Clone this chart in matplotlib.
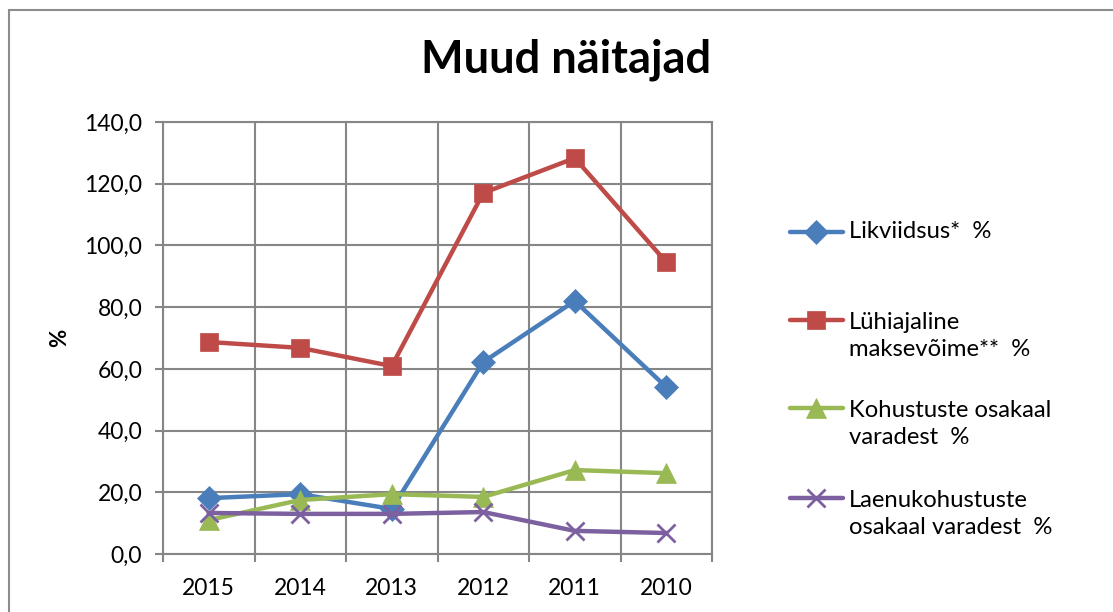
import matplotlib
matplotlib.use("Agg")
import matplotlib.pyplot as plt
from matplotlib.lines import Line2D
from matplotlib.patches import Rectangle
from matplotlib.ticker import FuncFormatter

years = ["2015", "2014", "2013", "2012", "2011", "2010"]

likviidsus = [18.1, 19.4, 14.6, 62.2, 82.0, 54.1]
luhiajaline = [68.7, 66.8, 60.9, 117.0, 128.3, 94.6]
kohustuste = [11.0, 17.5, 19.4, 18.5, 27.2, 26.2]
laenukohustuste = [13.3, 13.0, 13.0, 13.6, 7.5, 6.8]

labels = ["Likviidsus*  %",
          "Lühiajaline\nmaksevõime**  %",
          "Kohustuste osakaal\nvaradest  %",
          "Laenukohustuste\nosakaal varadest  %"]

colors = ["#4A7EBB", "#BE4B48", "#98B954", "#7D60A0"]
markers = ["D", "s", "^", "x"]
msizes = [12, 13, 14, 13]

plt.rcParams['font.family'] = ['Lato', 'DejaVu Sans']

W, H = 1113, 612
fig = plt.figure(figsize=(W / 100, H / 100), dpi=100)
ax = fig.add_axes([163 / W, 1 - 554 / H, (712 - 163) / W, (554 - 122) / H])

# outer chart frame (cut off at right and bottom like the screenshot)
fig.add_artist(Rectangle((9 / W, -0.1), 1.2, 1 - 10 / H + 0.1, transform=fig.transFigure,
                         fill=False, edgecolor="#8c8c8c", linewidth=1.5))

x = list(range(len(years)))
series = [likviidsus, luhiajaline, kohustuste, laenukohustuste]
for vals, c, m, ms, lab in zip(series, colors, markers, msizes, labels):
    ax.plot(x, vals, color=c, linewidth=3.2, marker=m, markersize=ms,
            markeredgewidth=2 if m == "x" else 0.5, markeredgecolor=c, label=lab)

ax.set_xlim(-0.5, len(years) - 0.5)
ax.set_ylim(0, 140)
ax.set_yticks(range(0, 141, 20))
ax.yaxis.set_major_formatter(FuncFormatter(lambda v, p: f"{v:.1f}".replace(".", ",")))
ax.set_xticks([i - 0.5 for i in range(len(years) + 1)])
ax.set_xticklabels([])
ax.set_xticks(x, minor=True)
ax.set_xticklabels(years, minor=True)
ax.tick_params(axis="x", which="minor", length=0, pad=17, labelsize=16.5)
ax.tick_params(axis="x", which="major", length=6, width=1.5, color="#868686")
ax.tick_params(axis="y", length=6, width=1.5, color="#868686", pad=9, labelsize=16.5)
ax.grid(True, which="major", color="#868686", linewidth=1.5)
ax.set_axisbelow(True)
for s in ax.spines.values():
    s.set_color("#868686")
    s.set_linewidth(1.5)

ax.set_ylabel("%", fontsize=16, fontweight="bold", labelpad=10)
fig.text(566 / W, 1 - 60 / H, "Muud näitajad", fontsize=32.5, fontweight="bold",
         ha="center", va="center")

# legend drawn by hand to keep Excel-like spacing
leg_y = [232, 336, 424, 514]
for y, c, m, ms, lab in zip(leg_y, colors, markers, msizes, labels):
    line_y = 1 - (y if "\n" not in lab else y - 16) / H
    fig.add_artist(Line2D([790 / W, 843 / W], [line_y, line_y], transform=fig.transFigure,
                          color=c, linewidth=3.2, solid_capstyle="round"))
    fig.add_artist(Line2D([816 / W], [line_y], transform=fig.transFigure, color=c,
                          marker=m, markersize=ms, markeredgecolor=c,
                          markeredgewidth=2 if m == "x" else 0.5))
    fig.text(849 / W, 1 - y / H, lab, fontsize=17.2, ha="left", va="center", linespacing=1.35)

fig.savefig("out.png", dpi=100)
